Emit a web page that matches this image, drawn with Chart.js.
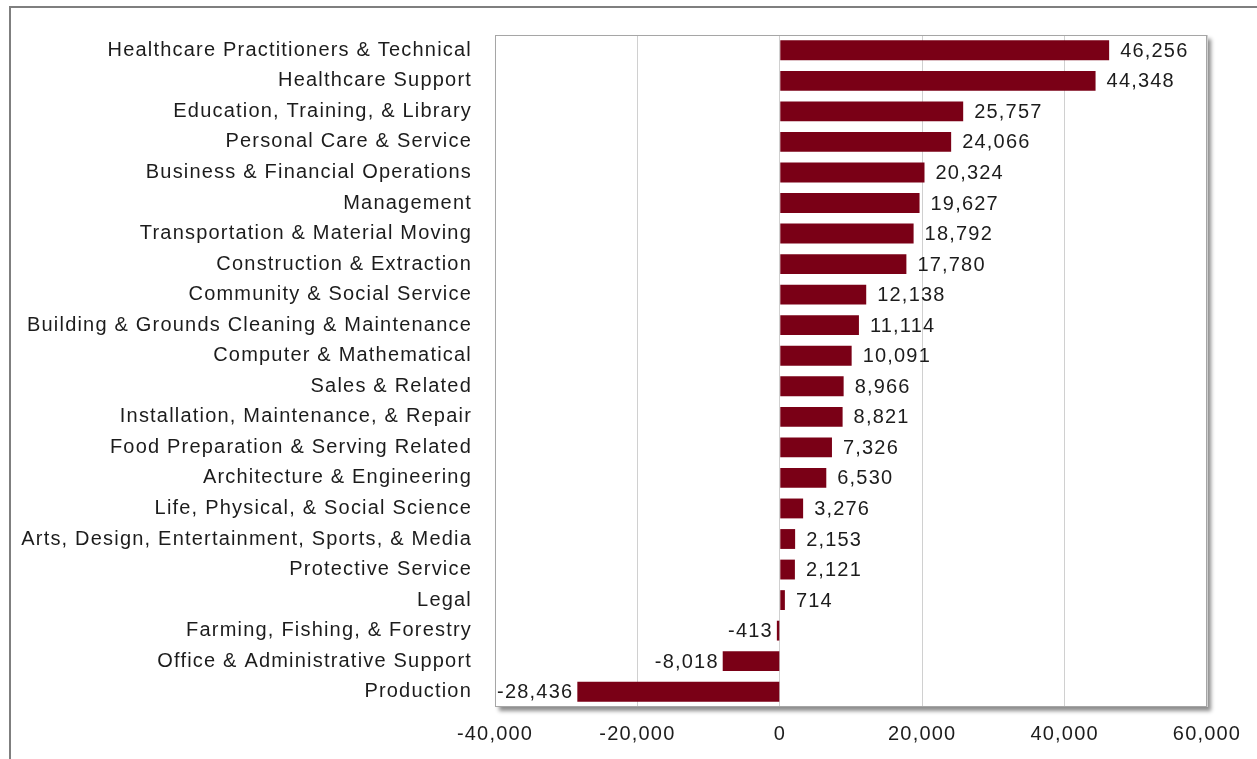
<!DOCTYPE html>
<html lang="en">
<head>
  <meta charset="UTF-8">
  <title>Job change by occupation</title>
  <style>
    body { margin: 0; background: white; }
    #wrap { width: 1257px; height: 759px; position: relative; }
  </style>
</head>
<body>
  <div id="wrap"><canvas id="chart"></canvas></div>

  <script src="https://cdn.jsdelivr.net/npm/chart.js"></script>
  <script>
    const categories = [
      'Healthcare Practitioners & Technical',
      'Healthcare Support',
      'Education, Training, & Library',
      'Personal Care & Service',
      'Business & Financial Operations',
      'Management',
      'Transportation & Material Moving',
      'Construction & Extraction',
      'Community & Social Service',
      'Building & Grounds Cleaning & Maintenance',
      'Computer & Mathematical',
      'Sales & Related',
      'Installation, Maintenance, & Repair',
      'Food Preparation & Serving Related',
      'Architecture & Engineering',
      'Life, Physical, & Social Science',
      'Arts, Design, Entertainment, Sports, & Media',
      'Protective Service',
      'Legal',
      'Farming, Fishing, & Forestry',
      'Office & Administrative Support',
      'Production'
    ];
    const changes = [46256, 44348, 25757, 24066, 20324, 19627, 18792, 17780, 12138, 11114,
                     10091, 8966, 8821, 7326, 6530, 3276, 2153, 2121, 714, -413, -8018, -28436];
    const xMin = -40000, xMax = 60000, xStep = 20000;

    const FONT = 'Liberation Sans, Arial, sans-serif';
    const SIZE = 20;
    const SPACING = '1.2px';

    // the source text is set a little wide, so space the letters out
    const spacingPlugin = {
      id: 'spacing',
      beforeUpdate(chart) { chart.ctx.letterSpacing = SPACING; },
      beforeDraw(chart) { chart.ctx.letterSpacing = SPACING; }
    };

    // outer frame + plot box with drop shadow
    const framePlugin = {
      id: 'frame',
      beforeDraw(chart) {
        const c = chart.ctx, a = chart.chartArea;
        c.save();
        c.strokeStyle = '#7f7f7f';
        c.lineWidth = 2;
        c.beginPath();
        c.moveTo(10, 759);
        c.lineTo(10, 7);
        c.lineTo(1257, 7);
        c.stroke();

        c.shadowColor = 'rgba(0,0,0,0.45)';
        c.shadowBlur = 4;
        c.shadowOffsetX = 4;
        c.shadowOffsetY = 4;
        c.fillStyle = 'white';
        c.fillRect(a.left, a.top, a.right - a.left, a.bottom - a.top);
        c.restore();
      },
      afterDatasetsDraw(chart) {
        const c = chart.ctx, a = chart.chartArea;
        c.save();
        c.strokeStyle = '#a6a6a6';
        c.lineWidth = 1;
        c.strokeRect(a.left + 0.5, a.top + 0.5, a.right - a.left - 1, a.bottom - a.top - 1);
        c.restore();
      }
    };

    const labelPlugin = {
      id: 'valueLabels',
      afterDatasetsDraw(chart) {
        const c = chart.ctx;
        const meta = chart.getDatasetMeta(0);
        c.save();
        c.font = SIZE + 'px ' + FONT;
        c.fillStyle = '#1c1c1c';
        c.textBaseline = 'middle';
        meta.data.forEach((bar, i) => {
          const v = changes[i];
          const txt = v.toLocaleString('en-US');
          if (v >= 0) {
            c.textAlign = 'left';
            c.fillText(txt, bar.x + 11, bar.y + 1);
          } else {
            c.textAlign = 'right';
            c.fillText(txt, bar.x - 4, bar.y + 1);
          }
        });
        c.restore();
      }
    };

    const ctx = document.getElementById('chart').getContext('2d');
    new Chart(ctx, {
      type: 'bar',
      data: {
        labels: categories,
        datasets: [{
          data: changes,
          backgroundColor: '#7a0016',
          barPercentage: 0.65,
          categoryPercentage: 1.0
        }]
      },
      options: {
        indexAxis: 'y',
        responsive: true,
        maintainAspectRatio: false,
        animation: false,
        layout: { padding: { left: 0, right: 50, top: 33, bottom: 0 } },
        plugins: { legend: { display: false }, tooltip: { enabled: false } },
        scales: {
          x: {
            min: xMin,
            max: xMax,
            ticks: {
              stepSize: xStep,
              color: '#1c1c1c',
              font: { family: FONT, size: SIZE },
              padding: 15,
              callback: v => v.toLocaleString('en-US')
            },
            grid: { color: '#d0d0d0', drawTicks: false },
            border: { display: false },
            afterFit(scale) { scale.height = 52; }
          },
          y: {
            ticks: {
              color: '#1c1c1c',
              font: { family: FONT, size: SIZE },
              padding: 23
            },
            grid: { display: false, drawTicks: false },
            border: { display: false },
            afterFit(scale) { scale.width = 495; }
          }
        }
      },
      plugins: [spacingPlugin, framePlugin, labelPlugin]
    });
  </script>
</body>
</html>
